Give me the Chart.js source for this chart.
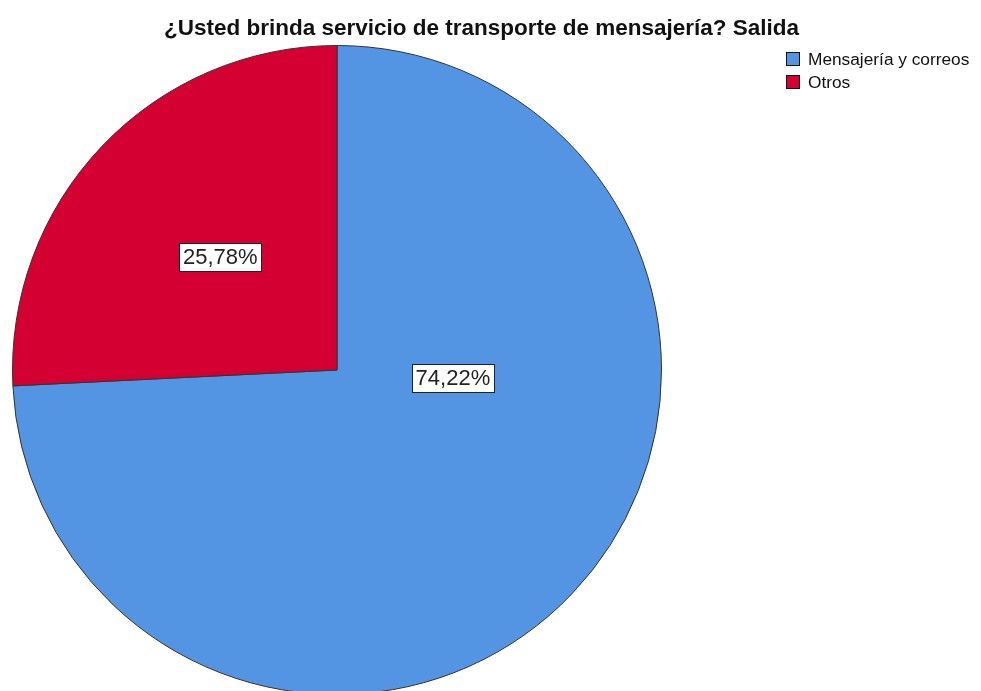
<!DOCTYPE html>
<html>
<head>
<meta charset="utf-8">
<script src="https://cdn.jsdelivr.net/npm/chart.js@4.4.1/dist/chart.umd.min.js"></script>
<style>
  body { margin: 0; background: #fff; overflow: hidden; }
  #wrap { position: relative; width: 981px; height: 700px; }
</style>
</head>
<body>
<div id="wrap"><canvas id="pie"></canvas></div>
<script>
const titleText = '¿Usted brinda servicio de transporte de mensajería? Salida'
const categories = ['Mensajería y correos', 'Otros']
const percents = [74.22, 25.78]
const sliceColors = ['#5495e3', '#d50032']

// label anchors: angle clockwise from 12 o'clock (deg) and fraction of radius
const labelSpots = [
  { angle: 94, r: 0.358 },
  { angle: 314, r: 0.5 }
]

const fmt = v => v.toFixed(2).replace('.', ',') + '%'

const decorations = {
  id: 'decorations',
  afterDraw(chart) {
    const ctx = chart.ctx
    const arcs = chart.getDatasetMeta(0).data
    ctx.save()

    // title
    ctx.fillStyle = '#111'
    ctx.font = 'bold 22.5px "Liberation Sans", Arial, sans-serif'
    ctx.textAlign = 'center'
    ctx.textBaseline = 'alphabetic'
    ctx.fillText(titleText, 481.5, 35)

    // legend
    ctx.font = '17.3px "Liberation Sans", Arial, sans-serif'
    ctx.textAlign = 'left'
    ctx.textBaseline = 'middle'
    categories.forEach((c, i) => {
      const y = 59 + i * 23
      ctx.fillStyle = sliceColors[i]
      ctx.fillRect(786, y - 7, 14, 14)
      ctx.strokeStyle = '#111'
      ctx.lineWidth = 1
      ctx.strokeRect(786.5, y - 6.5, 13, 13)
      ctx.fillStyle = '#111'
      ctx.fillText(c, 808, y + 1)
    })

    // value boxes
    ctx.font = '22px "Liberation Sans", Arial, sans-serif'
    ctx.textAlign = 'center'
    arcs.forEach((arc, i) => {
      const spot = labelSpots[i]
      const a = spot.angle * Math.PI / 180
      const x = arc.x + Math.sin(a) * arc.outerRadius * spot.r
      const y = arc.y - Math.cos(a) * arc.outerRadius * spot.r
      const txt = fmt(percents[i])
      const w = ctx.measureText(txt).width + 8
      const h = 29
      ctx.fillStyle = '#fff'
      ctx.fillRect(Math.round(x - w / 2), Math.round(y - h / 2), Math.round(w), h)
      ctx.strokeStyle = '#222'
      ctx.strokeRect(Math.round(x - w / 2) + 0.5, Math.round(y - h / 2) + 0.5, Math.round(w) - 1, h - 1)
      ctx.fillStyle = '#222'
      ctx.fillText(txt, x, y + 1)
    })
    ctx.restore()
  }
}

new Chart(document.getElementById('pie'), {
  type: 'pie',
  data: {
    labels: categories,
    datasets: [{
      data: percents,
      backgroundColor: sliceColors,
      borderColor: '#333',
      borderWidth: 1
    }]
  },
  options: {
    responsive: true,
    maintainAspectRatio: false,
    animation: false,
    layout: { padding: { left: 12, top: 45, right: 319, bottom: 5 } },
    plugins: {
      legend: { display: false },
      title: { display: false },
      tooltip: { enabled: false }
    }
  },
  plugins: [decorations]
})
</script>
</body>
</html>
